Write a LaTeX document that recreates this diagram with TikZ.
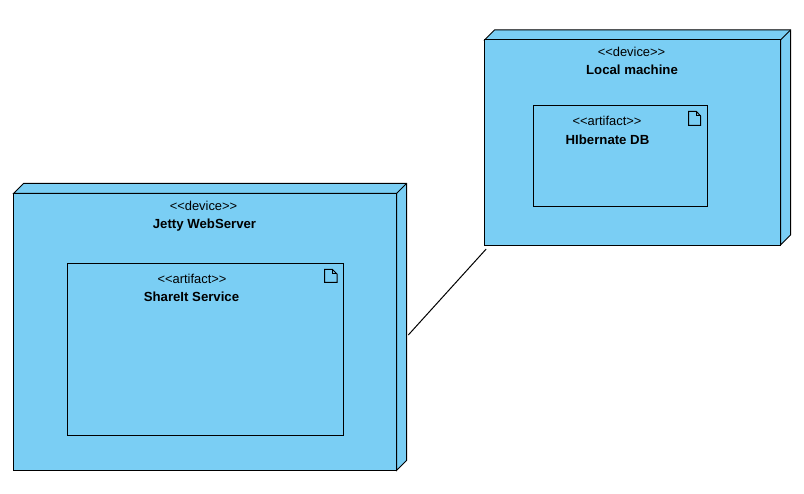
\documentclass[tikz,border=0pt]{standalone}
\usepackage{fontspec}
\setmainfont{Liberation Sans}
\tikzset{
  devfill/.style={fill=devblue,draw=black,line width=1pt,line join=miter},
  devicebox/.style={devfill,rectangle,inner sep=0pt,outer sep=0pt},
  artifactbox/.style={devicebox},
  stereo/.style={font=\fontsize{12.9}{14}\selectfont,inner sep=0pt,anchor=base},
  title/.style={font=\fontsize{13.2}{14}\selectfont\bfseries,inner sep=0pt,anchor=base},
  linkline/.style={draw=black,line width=1pt},
  iconline/.style={fill=white,draw=black,line width=1pt,line join=miter}
}
\definecolor{devblue}{HTML}{7ACEF4}
\begin{document}
\begin{tikzpicture}[x=1pt,y=-1pt]
\useasboundingbox (0,0) rectangle (804,494);
% Jetty device
\path[devfill] (13.5,193.5) -- (23.5,183.5) -- (406.5,183.5) -- (406.5,460.5) -- (396.5,470.5) -- (396.5,193.5) -- cycle;
\draw[devfill] (396.5,193.5) -- (406.5,183.5);
\node[devicebox,minimum width=383pt,minimum height=277pt] (jetty) at (205,332) {};
\node[stereo] (jettyS) at (203.5,210.5) {<{}<device>{}>};
\node[title] (jettyT) at (204.5,228.5) {Jetty WebServer};
\node[artifactbox,minimum width=276pt,minimum height=172pt] (share) at (205.5,349.2) {};
\node[stereo] (shareS) at (192,283.5) {<{}<artifact>{}>};
\node[title] (shareT) at (191.5,301.5) {ShareIt Service};
\draw[iconline,fill=none] (324.5,269.5) -- (332.5,269.5) -- (337,274) -- (337,282.5) -- (324.5,282.5) -- cycle;
\draw[iconline,fill=none] (332.5,269.5) -- (332.5,274) -- (337,274);
% Local device
\path[devfill] (484.5,40) -- (494.5,30) -- (790.5,30) -- (790.5,235) -- (780.5,245) -- (780.5,40) -- cycle;
\draw[devfill] (780.5,40) -- (790.5,30);
\node[devicebox,minimum width=296pt,minimum height=205.5pt] (local) at (632.5,142.75) {};
\node[stereo] (localS) at (631.5,56.5) {<{}<device>{}>};
\node[title] (localT) at (632,74.5) {Local machine};
\node[artifactbox,minimum width=174pt,minimum height=101pt] (hib) at (620.5,156) {};
\node[stereo] (hibS) at (607,126) {<{}<artifact>{}>};
\node[title] (hibT) at (607.5,144.5) {HIbernate DB};
\draw[iconline,fill=none] (688.5,111.5) -- (696.5,111.5) -- (700.5,116) -- (700.5,125.5) -- (688.5,125.5) -- cycle;
\draw[iconline,fill=none] (696.5,111.5) -- (696.5,116) -- (700.5,116);
% connector
\draw[linkline] ([shift={(11.8,3)}]jetty.east) -- ([shift={(1.7,3.5)}]local.south west);
\end{tikzpicture}
\end{document}
